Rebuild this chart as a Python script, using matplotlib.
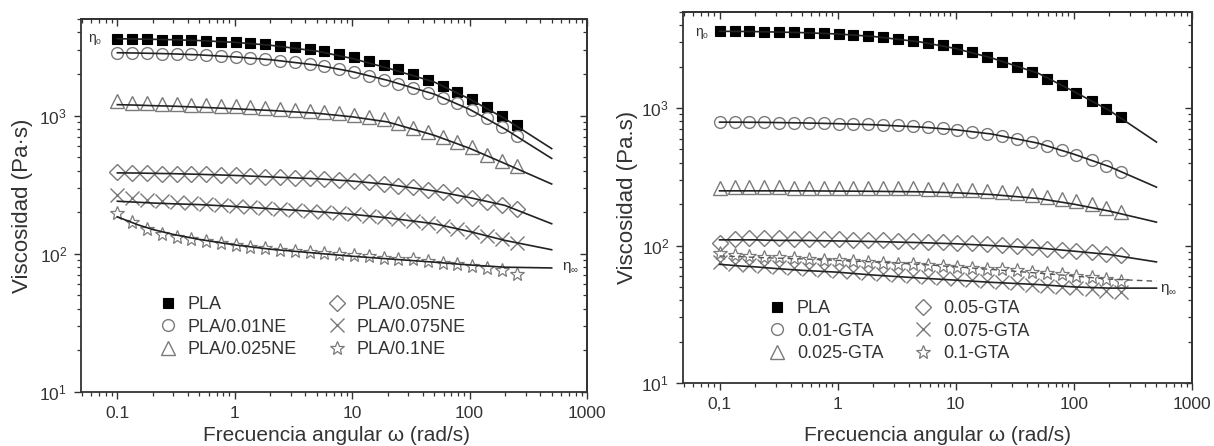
import matplotlib
matplotlib.use("Agg")
import matplotlib.pyplot as plt
from matplotlib.lines import Line2D
from matplotlib.ticker import LogLocator, NullFormatter, FixedLocator, FixedFormatter

plt.rcParams['font.family'] = ['Liberation Sans', 'DejaVu Sans']

# Angular frequency of the measured points (rad/s)
omega = [0.100, 0.134, 0.179, 0.239, 0.319, 0.426, 0.570, 0.761, 1.02, 1.36,
         1.82, 2.43, 3.24, 4.34, 5.79, 7.74, 10.3, 13.8, 18.5, 24.7,
         33.0, 44.1, 59.0, 78.8, 105, 141, 188, 251]

# Frequencies at which the model fits are tabulated (rad/s)
omega_fit = [0.1, 0.15, 0.2, 0.3, 0.5, 1, 2, 5, 10, 20, 50, 100, 200, 500]

# ---- Panel (a): PLA / NE blends, complex viscosity (Pa·s)
ne_labels = ["PLA", "PLA/0.01NE", "PLA/0.025NE", "PLA/0.05NE", "PLA/0.075NE", "PLA/0.1NE"]
ne_pla = [3600, 3590, 3570, 3550, 3530, 3500, 3470, 3430, 3390, 3340,
          3270, 3200, 3120, 3020, 2910, 2790, 2650, 2500, 2330, 2160,
          1990, 1820, 1650, 1480, 1320, 1150, 990, 850]
ne_001 = [2860, 2850, 2830, 2810, 2790, 2770, 2740, 2700, 2660, 2610,
          2560, 2500, 2430, 2360, 2280, 2190, 2080, 1950, 1820, 1700,
          1590, 1460, 1340, 1230, 1100, 960, 830, 716]
ne_0025 = [1280, 1240, 1230, 1220, 1210, 1200, 1190, 1180, 1170, 1160,
           1140, 1120, 1100, 1080, 1060, 1040, 1010, 980, 940, 880,
           820, 760, 700, 640, 590, 520, 470, 430]
ne_005 = [390, 385, 383, 381, 379, 377, 375, 372, 369, 366,
          362, 358, 355, 351, 347, 342, 336, 329, 321, 312,
          302, 291, 279, 266, 253, 239, 225, 212]
ne_0075 = [268, 252, 246, 240, 236, 232, 228, 224, 220, 217,
           214, 210, 207, 204, 201, 197, 193, 189, 184, 178,
           172, 166, 159, 151, 143, 135, 127, 120]
ne_01 = [198, 170, 152, 140, 133, 128, 123, 119, 116, 112,
         110, 107, 105, 103, 101, 100, 98, 96, 94, 92,
         91, 88, 86, 84, 82, 79, 76, 72]

ne_fit_pla = [3600, 3580, 3565, 3540, 3490, 3390, 3230, 2930, 2590, 2210, 1750, 1320, 950, 577]
ne_fit_001 = [2850, 2835, 2820, 2795, 2750, 2660, 2540, 2320, 2080, 1800, 1430, 1110, 800, 490]
ne_fit_0025 = [1200, 1190, 1180, 1170, 1150, 1120, 1090, 1040, 980, 900, 720, 580, 450, 320]
ne_fit_005 = [385, 384, 382, 380, 376, 369, 360, 349, 336, 318, 285, 255, 224, 165]
ne_fit_0075 = [240, 236, 233, 230, 227, 220, 212, 202, 193, 182, 165, 145, 125, 107]
ne_fit_01 = [185, 162, 150, 138, 127, 116, 108, 101, 96, 92, 87, 83, 80, 79]

# ---- Panel (b): PLA / GTA blends, complex viscosity (Pa·s)
gta_labels = ["PLA", "0.01-GTA", "0.025-GTA", "0.05-GTA", "0.075-GTA", "0.1-GTA"]
gta_pla = [3630, 3620, 3610, 3590, 3570, 3550, 3530, 3500, 3460, 3410,
           3350, 3280, 3200, 3100, 2990, 2860, 2700, 2540, 2370, 2180,
           2000, 1820, 1640, 1460, 1290, 1130, 990, 860]
gta_001 = [795, 790, 788, 786, 784, 782, 779, 776, 772, 768,
           762, 756, 748, 738, 726, 712, 695, 675, 652, 625,
           596, 565, 530, 495, 458, 420, 382, 343]
gta_0025 = [262, 265, 266, 265, 265, 264, 264, 264, 263, 263,
            262, 262, 261, 260, 259, 257, 255, 252, 248, 244,
            240, 234, 227, 219, 210, 200, 188, 176]
gta_005 = [105, 112, 114, 113, 113, 112, 112, 111, 111, 110,
           110, 109, 108, 108, 107, 106, 105, 104, 102, 101,
           99, 97, 95, 93, 91, 89, 87, 85]
gta_0075 = [76, 74, 72, 71, 70, 69, 67, 66, 65, 64,
            63, 62, 61, 60, 59, 58, 57, 56, 55, 54,
            53, 52, 51, 50, 49, 48, 47, 46]
gta_01 = [88, 85, 84, 83, 82, 81, 80, 79, 78, 77,
          76, 75, 74, 73, 72, 71, 70, 69, 68, 67,
          66, 64, 63, 62, 60, 59, 57, 55]

gta_fit_pla = [3620, 3610, 3600, 3575, 3540, 3460, 3320, 3030, 2710, 2320, 1790, 1320, 960, 566]
gta_fit_001 = [790, 789, 788, 785, 780, 770, 757, 728, 695, 648, 555, 462, 375, 266]
gta_fit_0025 = [250, 250, 250, 250, 250, 249, 248, 246, 242, 235, 220, 200, 178, 148]
gta_fit_005 = [110, 110, 110, 109, 109, 108, 107, 105, 103, 100, 96, 91, 86, 76]
gta_fit_0075 = [73, 71, 70, 68, 66, 64, 61, 58, 56, 54, 52, 50, 49, 49]
gta_fit_01 = [84, 83, 82, 81, 80, 78, 76, 73, 70, 67, 63, 60, 57, 55]

GREY = "#7a7a7a"
INK = "#333333"
styles = [
    dict(marker="s", ms=7.5, mfc="black", mec="black", mew=0.8),
    dict(marker="o", ms=8.5, mfc="none", mec=GREY, mew=1.0),
    dict(marker="^", ms=9.5, mfc="none", mec=GREY, mew=1.0),
    dict(marker="D", ms=8.5, mfc="none", mec=GREY, mew=1.0),
    dict(marker="x", ms=9.5, mfc="none", mec=GREY, mew=1.0),
    dict(marker="*", ms=10, mfc="none", mec=GREY, mew=0.9),
]

fig = plt.figure(figsize=(12.14, 4.46), dpi=100)
ax1 = fig.add_axes([81 / 1214, 1 - 392 / 446, 506 / 1214, 373 / 446])
ax2 = fig.add_axes([683 / 1214, 1 - 383 / 446, 509 / 1214, 371 / 446])

XMAJ = [0.1, 1, 10, 100, 1000]


def style_axis(ax, xticklabels, ylabel):
    ax.set_xscale("log")
    ax.set_yscale("log")
    ax.set_xlim(0.049, 1000)
    ax.set_ylim(10, 5000)
    for sp in ax.spines.values():
        sp.set_linewidth(1.3)
        sp.set_color(INK)
    ax.xaxis.set_major_locator(FixedLocator(XMAJ))
    ax.xaxis.set_major_formatter(FixedFormatter(xticklabels))
    ax.xaxis.set_minor_locator(LogLocator(base=10, subs=range(2, 10), numticks=20))
    ax.xaxis.set_minor_formatter(NullFormatter())
    ax.yaxis.set_major_locator(LogLocator(base=10, numticks=10))
    ax.yaxis.set_minor_locator(LogLocator(base=10, subs=range(2, 10), numticks=20))
    ax.yaxis.set_minor_formatter(NullFormatter())
    ax.tick_params(which="major", direction="out", length=5, width=1.0,
                   labelsize=12.5, colors=INK, pad=5)
    ax.tick_params(which="minor", direction="out", length=3, width=0.9, colors=INK)
    # mirrored ticks on the top and right spines, pointing inwards
    top = ax.secondary_xaxis("top")
    top.xaxis.set_major_locator(FixedLocator(XMAJ))
    top.xaxis.set_minor_locator(LogLocator(base=10, subs=range(2, 10), numticks=20))
    top.xaxis.set_major_formatter(NullFormatter())
    top.xaxis.set_minor_formatter(NullFormatter())
    top.tick_params(which="major", direction="in", length=5, width=1.0, colors=INK)
    top.tick_params(which="minor", direction="in", length=3, width=0.9, colors=INK)
    top.spines["top"].set_linewidth(1.3)
    top.spines["top"].set_color(INK)
    right = ax.secondary_yaxis("right")
    right.yaxis.set_major_locator(LogLocator(base=10, numticks=10))
    right.yaxis.set_minor_locator(LogLocator(base=10, subs=range(2, 10), numticks=20))
    right.yaxis.set_major_formatter(NullFormatter())
    right.yaxis.set_minor_formatter(NullFormatter())
    right.tick_params(which="major", direction="in", length=5, width=1.0, colors=INK)
    right.tick_params(which="minor", direction="in", length=3, width=0.9, colors=INK)
    right.spines["right"].set_linewidth(1.3)
    right.spines["right"].set_color(INK)
    ax.set_xlabel("Frecuencia angular ω (rad/s)", fontsize=15, color=INK)
    ax.set_ylabel(ylabel, fontsize=16, color=INK)


def draw_panel(ax, series, fits, dashed_last=False):
    for vals, st in zip(series, styles):
        ax.plot(omega, vals, linestyle="none", zorder=3, **st)
    for i, fv in enumerate(fits):
        if dashed_last and i == len(fits) - 1:
            ax.plot(omega_fit, fv, color="#555555", lw=1.0, ls=(0, (4, 3)), zorder=4)
        else:
            ax.plot(omega_fit, fv, color="#222222", lw=1.2, zorder=4)


draw_panel(ax1, [ne_pla, ne_001, ne_0025, ne_005, ne_0075, ne_01],
           [ne_fit_pla, ne_fit_001, ne_fit_0025, ne_fit_005, ne_fit_0075, ne_fit_01])
draw_panel(ax2, [gta_pla, gta_001, gta_0025, gta_005, gta_0075, gta_01],
           [gta_fit_pla, gta_fit_001, gta_fit_0025, gta_fit_005, gta_fit_0075, gta_fit_01],
           dashed_last=True)

style_axis(ax1, ["0.1", "1", "10", "100", "1000"], "Viscosidad (Pa·s)")
style_axis(ax2, ["0,1", "1", "10", "100", "1000"], "Viscosidad (Pa.s)")
ax1.yaxis.set_label_coords(-0.095, 0.5)
ax2.yaxis.set_label_coords(-0.088, 0.5)
ax1.xaxis.set_label_coords(0.504, -0.092)
ax2.xaxis.set_label_coords(0.5, -0.117)


def add_legend(ax, labels, anchor, colspace):
    handles = [Line2D([], [], linestyle="none", **st) for st in styles]
    leg = ax.legend(handles, labels, ncol=2, frameon=False, loc="upper left",
                    bbox_to_anchor=anchor, bbox_transform=fig.transFigure,
                    fontsize=13, handletextpad=0.5, columnspacing=colspace,
                    labelspacing=0.3, handlelength=1.2, borderaxespad=0)
    for t in leg.get_texts():
        t.set_color(INK)
    return leg


add_legend(ax1, ne_labels, (150 / 1214, 1 - 289 / 446), 1.6)
add_legend(ax2, gta_labels, (759 / 1214, 1 - 293 / 446), 1.6)


def eta_label(x, y, sub, big, small):
    fig.text(x / 1214, 1 - y / 446, "η", fontsize=big, color=INK, va="center", ha="left")
    fig.text((x + 0.8 * big) / 1214, 1 - (y + 4) / 446, sub, fontsize=small,
             color=INK, va="center", ha="left")


# zero-shear and infinite-shear viscosity markers
eta_label(88, 38, "0", 10, 6)
eta_label(695, 32, "0", 10, 6)
eta_label(562, 266, "∞", 11, 7)
eta_label(1160, 288, "∞", 11, 7)

fig.savefig("out.png", dpi=100)
